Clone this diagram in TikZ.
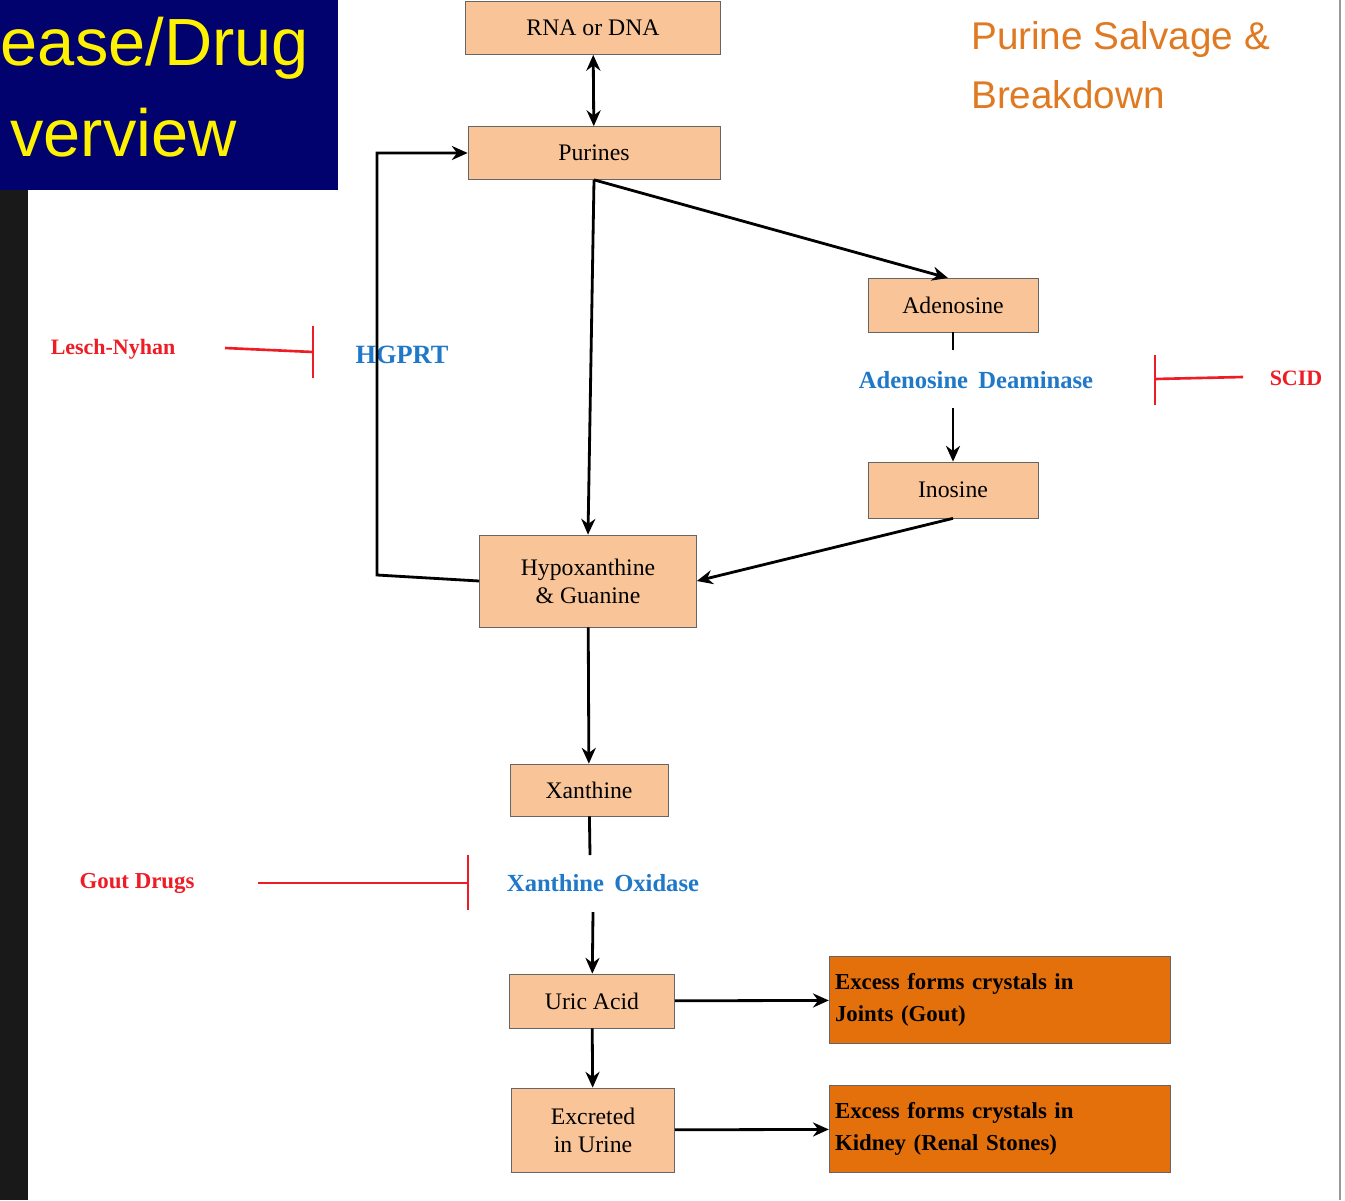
\documentclass[tikz,border=0pt]{standalone}
\usepackage{fontspec}
\setmainfont{Liberation Serif}
\newfontfamily\sansf{Liberation Sans}
\usetikzlibrary{arrows.meta}
\definecolor{lt}{HTML}{F9C598}
\definecolor{dk}{HTML}{E4700C}
\definecolor{bl}{HTML}{1F78C8}
\definecolor{rd}{HTML}{EE1C24}
\definecolor{nv}{HTML}{02026E}
\definecolor{ttl}{HTML}{E07A22}
\begin{document}
\begin{tikzpicture}[x=0.02cm,y=-0.02cm,
 box/.style={draw=black!60,fill=lt,minimum width=#1*0.02cm,inner sep=2pt,align=center,font=\fontsize{13.5}{16}\selectfont},
 dbox/.style={draw=black!60,fill=dk,align=left,font=\bfseries\fontsize{13}{18}\selectfont,text width=6.6cm},
 arr/.style={-{Stealth[length=9pt,width=8pt]},line width=1.6pt},
 inh/.style={draw=rd,line width=1.5pt},
 enz/.style={text=bl,font=\bfseries\fontsize{14}{16}\selectfont},
 dis/.style={text=rd,font=\bfseries\fontsize{12.5}{15}\selectfont}]
\useasboundingbox (0,0) rectangle (1345,1200);
\fill[white] (0,0) rectangle (1345,1200);
\fill[black!90] (0,0) rectangle (28,1200);
\draw[black!40,line width=1pt] (1340,0) -- (1340,1200);
\fill[nv] (0,0) rectangle (338,190);
\begin{scope}
\clip (0,0) rectangle (338,190);
\node[anchor=east,text=yellow,font=\sansf\fontsize{38}{40}\selectfont] at (315,48) {ease/Drug};
\node[anchor=east,text=yellow,font=\sansf\fontsize{38}{40}\selectfont] at (243,133) {verview};
\end{scope}
\node[anchor=north west,text=ttl,align=left,font=\sansf\fontsize{22}{34}\selectfont] (title) at (965,15) {Purine Salvage \&\\Breakdown};
\node[box=255,minimum height=1.06cm] (rna) at (593,28) {RNA or DNA};
\node[box=252,minimum height=1.06cm] (pur) at (594,153) {Purines};
\node[box=170,minimum height=1.08cm] (ade) at (953,305) {Adenosine};
\node[enz] (ada) at (976,380) {Adenosine\, Deaminase};
\node[box=170,minimum height=1.12cm] (ino) at (953,490) {Inosine};
\node[box=217,minimum height=1.84cm] (hyp) at (588,581) {Hypoxanthine\\\& Guanine};
\node[box=158,minimum height=1.04cm] (xan) at (589,790) {Xanthine};
\node[enz] (xo) at (603,883) {Xanthine\, Oxidase};
\node[box=165,minimum height=1.08cm] (uric) at (592,1001) {Uric Acid};
\node[box=163,minimum height=1.68cm] (exc) at (593,1130) {Excreted\\in Urine};
\node[dbox,minimum height=1.74cm] (g1) at (1000,1000) {Excess forms crystals in\\Joints (Gout)};
\node[dbox,minimum height=1.74cm] (g2) at (1000,1129) {Excess forms crystals in\\Kidney (Renal Stones)};
\node[enz,font=\bfseries\fontsize{15}{16}\selectfont] (hg) at (402,355) {HGPRT};
\node[dis] (ln) at (113,349) {Lesch-Nyhan};
\node[dis] (scid) at (1296,378) {SCID};
\node[dis,font=\bfseries\fontsize{13}{15}\selectfont] (gd) at (137,883) {Gout Drugs};
\coordinate (l1) at (225,348); \coordinate (l2) at (313,352);
\draw[inh] (l1) -- (l2); \draw[inh] (313,326) -- (313,378);
\coordinate (s1) at (1243,377); \coordinate (s2) at (1155,379);
\draw[inh] (s1) -- (s2); \draw[inh] (1155,355) -- (1155,405);
\coordinate (d1) at (258,883); \coordinate (d2) at (468,883);
\draw[inh] (d1) -- (d2); \draw[inh] (468,855) -- (468,910);
\draw[{Stealth[length=9pt,width=8pt]}-{Stealth[length=9pt,width=8pt]},line width=1.6pt] (rna) -- (pur);
\draw[arr] (pur.south) -- (948,278);
\draw[arr] (pur.south) -- (hyp.north);
\draw[line width=1.6pt] (ade) -- (953,350);
\draw[arr] (953,408) -- (ino);
\draw[arr] (ino.south) -- (hyp.east);
\draw[arr] (hyp.west) -- (377,575) -- (377,153) -- (pur.west);
\draw[arr] (hyp) -- (xan);
\draw[line width=1.6pt] (xan) -- (590,855);
\draw[arr] (593,912) -- (uric);
\draw[arr] (uric) -- (exc);
\draw[arr] (uric) -- (g1);
\draw[arr] (exc) -- (g2);
\end{tikzpicture}
\end{document}
